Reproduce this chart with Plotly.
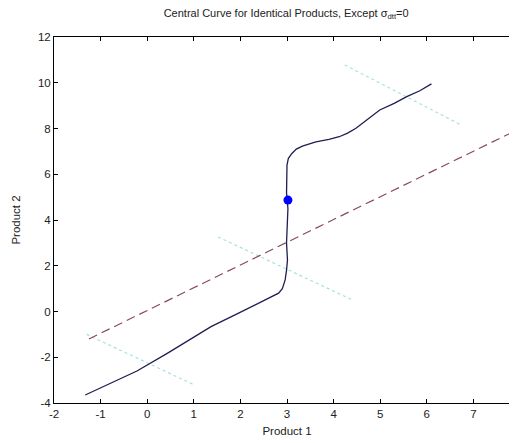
import plotly.graph_objects as go

# Main central curve (Product 1, Product 2)
curve_x = [-1.33, -0.73, -0.22, 0.43, 1.01, 1.37, 1.95, 2.46, 2.70, 2.82, 2.90, 2.96, 2.99, 3.01, 2.99, 3.01, 3.02, 2.99, 3.00, 3.00, 3.03, 3.11, 3.20, 3.33, 3.62, 3.90, 4.12, 4.30, 4.48, 4.70, 4.99, 5.30, 5.57, 5.85, 6.10]
curve_y = [-3.65, -3.07, -2.60, -1.83, -1.10, -0.66, -0.08, 0.43, 0.66, 0.80, 1.00, 1.38, 1.80, 2.25, 3.00, 3.80, 4.50, 5.20, 5.90, 6.40, 6.70, 6.92, 7.10, 7.23, 7.42, 7.52, 7.64, 7.80, 8.01, 8.37, 8.81, 9.10, 9.39, 9.65, 9.95]

# Diagonal (identical products) line
diag_x = [-1.25, 8.0]
diag_y = [-1.2, 8.0]

# Perpendicular dotted guide lines
guide1_x = [-1.3, 1.0]
guide1_y = [-1.0, -3.2]
guide2_x = [1.52, 4.41]
guide2_y = [3.26, 0.50]
guide3_x = [4.24, 6.74]
guide3_y = [10.78, 8.15]

# Marked point
point_x = [3.02]
point_y = [4.87]

x_ticks = [-2, -1, 0, 1, 2, 3, 4, 5, 6, 7, 8]
y_ticks = [-4, -2, 0, 2, 4, 6, 8, 10, 12]

fig = go.Figure()
guide_color = "#a6e0e0"
for gx, gy in [(guide1_x, guide1_y), (guide2_x, guide2_y), (guide3_x, guide3_y)]:
    fig.add_trace(go.Scatter(x=gx, y=gy, mode="lines",
                             line=dict(color=guide_color, width=1.2, dash="dot"),
                             showlegend=False, hoverinfo="skip"))
fig.add_trace(go.Scatter(x=diag_x, y=diag_y, mode="lines",
                         line=dict(color="#8a4a58", width=1.2, dash="9px,5px"),
                         showlegend=False))
fig.add_trace(go.Scatter(x=curve_x, y=curve_y, mode="lines",
                         line=dict(color="#1e1e52", width=1.3),
                         showlegend=False))
fig.add_trace(go.Scatter(x=point_x, y=point_y, mode="markers",
                         marker=dict(color="#0000ff", size=9),
                         showlegend=False))

tick_font = dict(family="Liberation Sans", size=11.5, color="#222")
axis_common = dict(showgrid=False, zeroline=False, showline=True, linecolor="black",
                   linewidth=1, mirror="ticks", ticks="inside", ticklen=4,
                   tickcolor="black", tickfont=tick_font, automargin=False)

fig.update_layout(
    width=517, height=443,
    margin=dict(l=46, r=5, t=29, b=48),
    plot_bgcolor="white", paper_bgcolor="white",
    title=dict(text="Central Curve for Identical Products, Except σ<sub>dtt</sub>=0",
               x=0.538, xanchor="center", y=0.988, yanchor="middle",
               font=dict(family="Liberation Sans", size=11, color="#222")),
    xaxis=dict(range=[-2, 8], tickvals=x_ticks, ticktext=[str(v) for v in x_ticks],
               title=dict(text="Product 1", standoff=8,
                          font=dict(family="Liberation Sans", size=11.5, color="#222")),
               **axis_common),
    yaxis=dict(range=[-4, 12], tickvals=y_ticks, ticktext=[str(v) for v in y_ticks],
               title=dict(text="Product 2", standoff=14,
                          font=dict(family="Liberation Sans", size=11.5, color="#222")),
               **axis_common),
)

fig.write_html("out.html")
